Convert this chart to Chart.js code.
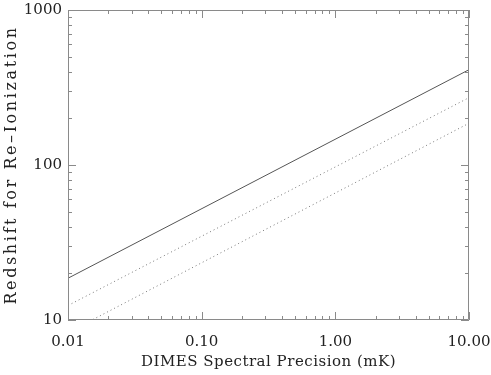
<!DOCTYPE html>
<html><head><meta charset="utf-8">
<script src="https://cdn.jsdelivr.net/npm/chart.js@4"></script>
<style>html,body{margin:0;padding:0;background:#fff}#wrap{width:491px;height:375px}</style>
</head><body><div id="wrap"><canvas id="c" width="491" height="375"></canvas></div>
<script>
const xTickValues = [0.01, 0.1, 1, 10];
const xTickLabels = ['0.01', '0.10', '1.00', '10.00'];
const yTickValues = [10, 100, 1000];
const yTickLabels = ['10', '100', '1000'];
const precision = [0.01, 10];
const zSolid = [18.6, 412];
const zDotted1 = [12.4, 272];
const zDotted2 = [8.3, 186];

const FONT = '"DejaVu Serif", "Liberation Serif", serif';

const tickPlugin = {
  id: 'idlTicks',
  afterDraw(chart) {
    const {ctx, chartArea: a, scales} = chart;
    const xs = scales.x, ys = scales.y;
    ctx.save();
    ctx.strokeStyle = '#8a8a8a';
    ctx.lineWidth = 1;
    ctx.beginPath();
    ctx.rect(a.left + 0.5, a.top + 0.5, a.right - a.left - 1, a.bottom - a.top - 1);
    ctx.stroke();
    ctx.beginPath();
    const majL = 8, minL = 4;
    for (let d = 0; d < xTickValues.length; d++) {
      const base = xTickValues[d];
      for (let m = 1; m <= 9; m++) {
        const v = base * m;
        if (v > xTickValues[xTickValues.length - 1] * 1.0001) break;
        const px = Math.round(xs.getPixelForValue(v)) + 0.5;
        const L = m === 1 ? majL : minL;
        ctx.moveTo(px, a.bottom); ctx.lineTo(px, a.bottom - L);
        ctx.moveTo(px, a.top); ctx.lineTo(px, a.top + L);
      }
    }
    for (let d = 0; d < yTickValues.length; d++) {
      const base = yTickValues[d];
      for (let m = 1; m <= 9; m++) {
        const v = base * m;
        if (v > yTickValues[yTickValues.length - 1] * 1.0001) break;
        const py = Math.round(ys.getPixelForValue(v)) + 0.5;
        const L = m === 1 ? majL : minL;
        ctx.moveTo(a.left, py); ctx.lineTo(a.left + L, py);
        ctx.moveTo(a.right, py); ctx.lineTo(a.right - L, py);
      }
    }
    ctx.stroke();
    ctx.restore();
  }
};

function spacedTitle(scale, spacing) {
  if (scale._spacedWrapped) return;
  const orig = scale.drawTitle.bind(scale);
  scale.drawTitle = function (...args) {
    const ctx = this.ctx;
    const prev = ctx.letterSpacing;
    ctx.letterSpacing = spacing;
    orig(...args);
    ctx.letterSpacing = prev || '0px';
  };
  scale._spacedWrapped = true;
}

new Chart(document.getElementById('c'), {
  type: 'line',
  data: {
    datasets: [
      {data: precision.map((x, i) => ({x, y: zSolid[i]})), borderColor: '#555', borderWidth: 1, pointRadius: 0, fill: false},
      {data: precision.map((x, i) => ({x, y: zDotted1[i]})), borderColor: '#777', borderWidth: 1, borderDash: [1, 3], pointRadius: 0, fill: false},
      {data: precision.map((x, i) => ({x, y: zDotted2[i]})), borderColor: '#777', borderWidth: 1, borderDash: [1, 3], pointRadius: 0, fill: false}
    ]
  },
  options: {
    responsive: false,
    animation: false,
    layout: {padding: {left: 0, top: 10, right: 22, bottom: 0}},
    plugins: {legend: {display: false}, tooltip: {enabled: false}},
    scales: {
      x: {
        type: 'logarithmic', min: 0.01, max: 10,
        afterBuildTicks: s => { s.ticks = xTickValues.map(v => ({value: v, major: true})); },
        afterFit: s => { s.height = 55; s.paddingLeft = 0; s.paddingRight = 0; },
        afterUpdate: s => spacedTitle(s, '0.5px'),
        grid: {display: false, drawTicks: false},
        border: {display: false},
        ticks: {
          color: '#222', padding: 13, maxRotation: 0, autoSkip: false,
          font: {family: FONT, size: 15},
          callback: (v) => { const i = xTickValues.findIndex(t => Math.abs(t - v) / t < 1e-6); return i >= 0 ? xTickLabels[i] : ''; }
        },
        title: {display: true, text: 'DIMES Spectral Precision (mK)', color: '#222', font: {family: FONT, size: 15}, padding: {top: 0, bottom: 4}}
      },
      y: {
        type: 'logarithmic', min: 10, max: 1000,
        afterBuildTicks: s => { s.ticks = yTickValues.map(v => ({value: v, major: true})); },
        afterFit: s => { s.width = 68; s.paddingTop = 0; s.paddingBottom = 0; },
        afterUpdate: s => spacedTitle(s, '2.6px'),
        grid: {display: false, drawTicks: false},
        border: {display: false},
        ticks: {
          color: '#222', padding: 6, autoSkip: false,
          font: {family: FONT, size: 15},
          callback: (v) => { const i = yTickValues.findIndex(t => Math.abs(t - v) / t < 1e-6); return i >= 0 ? yTickLabels[i] : ''; }
        },
        title: {display: true, text: 'Redshift for Re\u2013Ionization', color: '#222', font: {family: FONT, size: 16}, padding: {top: 2, bottom: 0}}
      }
    }
  },
  plugins: [tickPlugin]
});
</script></body></html>
